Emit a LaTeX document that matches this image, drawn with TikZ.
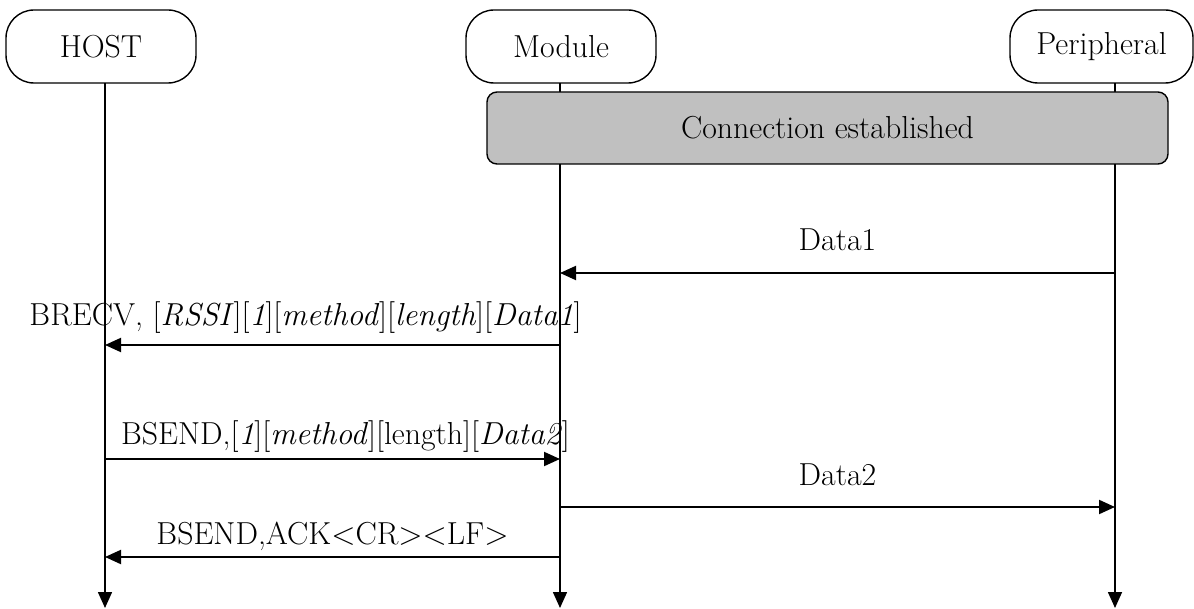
\documentclass[tikz,border=0pt]{standalone}
\usepackage{xcolor}
\usepackage{tikz}
\definecolor{stategray}{RGB}{192,192,192}
\usetikzlibrary{arrows.meta,positioning}

\begin{document}
\begin{tikzpicture}[
    x=0.5pt, y=-0.5pt,
    font=\fontsize{15.9}{18}\selectfont,
    actor/.style={rectangle, rounded corners=14pt, minimum width=95pt, minimum height=36.5pt, text centered, draw=black, line width=0.7pt, fill=white},
    state/.style={rectangle, rounded corners=5pt, minimum width=340.5pt, minimum height=36pt, text centered, draw=black, line width=0.7pt, fill=stategray},
    life/.style={-{Triangle[length=8pt,width=7pt]}, line width=0.8pt},
    msg/.style={-{Triangle[length=8pt,width=7pt]}, line width=1pt}
]
\useasboundingbox (0,0) rectangle (1194,609);

% lifelines
\coordinate (hostTop) at (105,83);
\coordinate (hostEnd) at (105,608);
\coordinate (modTop) at (560,83);
\coordinate (modEnd) at (560,608);
\coordinate (perTop) at (1115,83);
\coordinate (perEnd) at (1115,608);
\draw[life] (hostTop) -- (hostEnd);
\draw[life] (modTop) -- (modEnd);
\draw[life] (perTop) -- (perEnd);

\node[actor] (host) at (101,46.5) {HOST};
\node[actor] (module) at (561,46.5) {Module};
\node[actor, minimum width=91.5pt] (peripheral) at (1101.5,46.5) {Peripheral};
\node[state] (conn) at (827.5,128) {Connection established};

% message end points
\coordinate (perD1) at (1115,273);
\coordinate (modD1) at (560,273);
\coordinate (modRecv) at (560,345);
\coordinate (hostRecv) at (105,345);
\coordinate (hostSend) at (105,459);
\coordinate (modSend) at (560,459);
\coordinate (modD2) at (560,507);
\coordinate (perD2) at (1115,507);
\coordinate (modAck) at (560,557);
\coordinate (hostAck) at (105,557);

\draw[msg] (perD1) -- node[midway, yshift=16.5pt] {Data1} (modD1);
\draw[msg] (modRecv) -- node[midway, yshift=13.5pt, xshift=-13.5pt] {BRECV, [\textit{RSSI}][\textit{1}][\textit{method}][\textit{length}][\textit{Data1}]} (hostRecv);
\draw[msg] (hostSend) -- node[midway, yshift=11pt, xshift=6.5pt] {BSEND,[\textit{1}][\textit{method}][length][\textit{Data2}]} (modSend);
\draw[msg] (modD2) -- node[midway, yshift=16pt] {Data2} (perD2);
\draw[msg] (modAck) -- node[midway, yshift=10.5pt] {BSEND,ACK<CR><LF>} (hostAck);

\end{tikzpicture}
\end{document}
